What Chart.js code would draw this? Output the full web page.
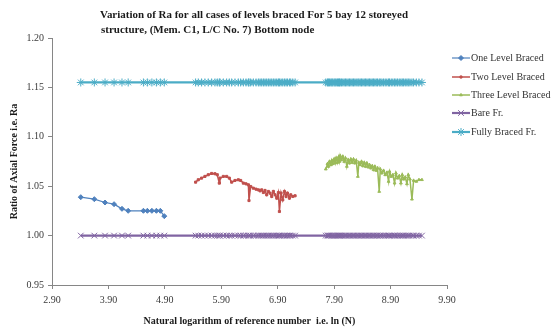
<!DOCTYPE html>
<html>
<head>
<meta charset="utf-8">
<script src="https://cdn.jsdelivr.net/npm/chart.js@4.4.0/dist/chart.umd.min.js"></script>
<style>
    html, body { margin: 0; padding: 0; background: #fff; }
</style>
</head>
<body>
<canvas id="chartRa" width="551" height="327"></canvas>
<script>
// ================== DATA ==================
const titleLines = [
    'Variation of Ra for all cases of levels braced For 5 bay 12 storeyed',
    'structure, (Mem. C1, L/C No. 7) Bottom node'
];
const xTitle = 'Natural logarithm of reference number  i.e. ln (N)';
const yTitle = 'Ratio of Axial Force i.e. Ra';
const seriesNames = ['One Level Braced', 'Two Level Braced', 'Three Level Braced', 'Bare Fr.', 'Fully Braced Fr.'];

const oneX = [3.41, 3.65, 3.84, 4.00, 4.14, 4.25, 4.52, 4.59, 4.67, 4.75, 4.82, 4.89];
const oneY = [1.0389, 1.0369, 1.0335, 1.0318, 1.0271, 1.0251, 1.0251, 1.0251, 1.0251, 1.0251, 1.0251, 1.0197];

const twoX = [5.445, 5.492, 5.551, 5.610, 5.669, 5.729, 5.788, 5.829, 5.865, 5.877, 5.936, 5.995,
    6.042, 6.084, 6.143, 6.202, 6.243, 6.291, 6.338, 6.380, 6.391, 6.421, 6.468, 6.516, 6.557,
    6.587, 6.616, 6.646, 6.675, 6.705, 6.735, 6.764, 6.794, 6.823, 6.853, 6.883, 6.912, 6.930,
    6.959, 6.989, 7.019, 7.048, 7.072, 7.107, 7.131, 7.167, 7.208];
const twoY = [1.0541, 1.0565, 1.0582, 1.0599, 1.0616, 1.0629, 1.0626, 1.0616, 1.0531, 1.0582, 1.0599, 1.0599,
    1.0582, 1.0541, 1.0558, 1.0565, 1.0558, 1.0531, 1.0524, 1.0514, 1.0355, 1.0497, 1.0480, 1.0470, 1.0463,
    1.0453, 1.0463, 1.0436, 1.0457, 1.0413, 1.0447, 1.0430, 1.0396, 1.0447, 1.0413, 1.0379, 1.0436, 1.0244,
    1.0430, 1.0362, 1.0447, 1.0396, 1.0430, 1.0379, 1.0413, 1.0396, 1.0403];

const threeX = [7.752, 7.782, 7.799, 7.817, 7.841, 7.859, 7.876, 7.900, 7.918, 7.936, 7.959, 7.977,
    7.995, 8.007, 8.030, 8.054, 8.078, 8.101, 8.125, 8.149, 8.172, 8.196, 8.220, 8.243, 8.267,
    8.291, 8.320, 8.338, 8.362, 8.385, 8.409, 8.433, 8.456, 8.480, 8.504, 8.527, 8.551, 8.575,
    8.598, 8.622, 8.646, 8.669, 8.699, 8.717, 8.746, 8.776, 8.805, 8.835, 8.865, 8.882, 8.912,
    8.941, 8.971, 8.995, 9.024, 9.054, 9.083, 9.107, 9.131, 9.160, 9.190, 9.214, 9.243, 9.279,
    9.308, 9.356, 9.403, 9.456];
const threeY = [1.0673, 1.0727, 1.0700, 1.0750, 1.0717, 1.0761, 1.0727, 1.0774, 1.0734, 1.0784, 1.0740, 1.0794,
    1.0750, 1.0808, 1.0767, 1.0801, 1.0750, 1.0784, 1.0700, 1.0767, 1.0734, 1.0774, 1.0740, 1.0774, 1.0734,
    1.0761, 1.0598, 1.0740, 1.0717, 1.0750, 1.0706, 1.0740, 1.0700, 1.0734, 1.0693, 1.0717, 1.0683, 1.0706,
    1.0666, 1.0700, 1.0659, 1.0683, 1.0446, 1.0673, 1.0632, 1.0659, 1.0615, 1.0639, 1.0548, 1.0649, 1.0598,
    1.0615, 1.0531, 1.0632, 1.0581, 1.0605, 1.0531, 1.0615, 1.0571, 1.0591, 1.0524, 1.0615, 1.0571, 1.0368,
    1.0558, 1.0548, 1.0565, 1.0565];

// Bare and fully braced frames: one constant ratio each, at every reference number
const bareRa = 1.000;
const fullyRa = 1.155;

const xTicks = [2.90, 3.90, 4.90, 5.90, 6.90, 7.90, 8.90, 9.90];
const yTicks = [0.95, 1.00, 1.05, 1.10, 1.15, 1.20];

// ================== BUILD ==================
const allX = [...oneX, ...twoX, ...threeX];
const toPoints = (xs, ys) => xs.map((x, i) => ({ x: x, y: ys[i] }));

const colores = ['#4F81BD', '#C0504D', '#9BBB59', '#8064A2', '#4BACC6'];
const estilos = [
    { pointStyle: 'rectRot', radius: 2.5, borderWidth: 1, lineWidth: 1.2 },
    { pointStyle: 'rect', radius: 1.5, borderWidth: 1, lineWidth: 1.5 },
    { pointStyle: 'triangle', radius: 1.6, borderWidth: 1, lineWidth: 1.5 },
    { pointStyle: 'crossRot', radius: 4, borderWidth: 1, lineWidth: 2.2 },
    { pointStyle: 'star', radius: 4, borderWidth: 1, lineWidth: 2.2 }
];

const puntos = [
    toPoints(oneX, oneY),
    toPoints(twoX, twoY),
    toPoints(threeX, threeY),
    allX.map(x => ({ x: x, y: bareRa })),
    allX.map(x => ({ x: x, y: fullyRa }))
];

const datasets = seriesNames.map((name, i) => ({
    label: name,
    data: puntos[i],
    showLine: true,
    borderColor: colores[i],
    backgroundColor: colores[i],
    borderWidth: estilos[i].lineWidth,
    pointStyle: estilos[i].pointStyle,
    pointRadius: estilos[i].radius,
    pointBorderWidth: estilos[i].borderWidth,
    pointBorderColor: colores[i],
    pointBackgroundColor: colores[i],
    tension: 0,
    order: 5 - i
}));

const serif = '"Liberation Serif", "DejaVu Serif", serif';

// title + legend drawn on the canvas (Excel-like legend with line and marker)
const extrasPlugin = {
    id: 'extras',
    afterDraw(chart) {
        const ctx = chart.ctx;
        ctx.save();
        ctx.fillStyle = '#1a1a1a';
        ctx.font = 'bold 11px ' + serif;
        ctx.textAlign = 'left';
        ctx.textBaseline = 'middle';
        ctx.fillText(titleLines[0], 100, 15, 308);
        ctx.fillText(titleLines[1], 101, 30, 214);

        const legendY = [58, 77, 95, 113, 132];
        seriesNames.forEach((name, i) => {
            const y = legendY[i];
            ctx.strokeStyle = colores[i];
            ctx.lineWidth = estilos[i].lineWidth;
            ctx.beginPath();
            ctx.moveTo(452, y);
            ctx.lineTo(470, y);
            ctx.stroke();
            ctx.fillStyle = colores[i];
            ctx.lineWidth = estilos[i].borderWidth;
            Chart.helpers.drawPoint(ctx, {
                pointStyle: estilos[i].pointStyle,
                radius: estilos[i].radius,
                rotation: 0,
                borderWidth: estilos[i].borderWidth
            }, 461, y);
            ctx.fillStyle = '#333333';
            ctx.font = '10px ' + serif;
            ctx.fillText(name, 471, y);
        });
        ctx.restore();
    }
};

new Chart(document.getElementById('chartRa'), {
    type: 'scatter',
    data: { datasets: datasets },
    options: {
        responsive: false,
        animation: false,
        layout: { padding: { left: 0, top: 38, right: 104, bottom: 0 } },
        plugins: {
            legend: { display: false },
            title: { display: false },
            tooltip: { enabled: false }
        },
        scales: {
            x: {
                type: 'linear',
                min: xTicks[0],
                max: xTicks[xTicks.length - 1],
                afterBuildTicks: (scale) => { scale.ticks = xTicks.map(v => ({ value: v })); },
                afterFit: (scale) => { scale.height = 42; },
                border: { color: '#868686', width: 1 },
                grid: { drawOnChartArea: false, drawTicks: true, tickLength: 4, color: '#868686' },
                ticks: {
                    font: { family: serif, size: 10 },
                    color: '#3a3a3a',
                    padding: 5,
                    maxRotation: 0,
                    autoSkip: false,
                    callback: (v) => Number(v).toFixed(2)
                },
                title: {
                    display: true,
                    text: xTitle,
                    color: '#1a1a1a',
                    font: { family: serif, size: 10, weight: 'bold' },
                    padding: { top: 3, bottom: 0 }
                }
            },
            y: {
                min: yTicks[0],
                max: yTicks[yTicks.length - 1],
                afterBuildTicks: (scale) => { scale.ticks = yTicks.map(v => ({ value: v })); },
                afterFit: (scale) => { scale.width = 52; },
                border: { color: '#868686', width: 1 },
                grid: { drawOnChartArea: false, drawTicks: true, tickLength: 4, color: '#868686' },
                ticks: {
                    font: { family: serif, size: 10 },
                    color: '#3a3a3a',
                    padding: 4,
                    autoSkip: false,
                    callback: (v) => Number(v).toFixed(2)
                },
                title: {
                    display: true,
                    text: yTitle,
                    color: '#1a1a1a',
                    font: { family: serif, size: 10, weight: 'bold' },
                    padding: { top: 8, bottom: 0 }
                }
            }
        }
    },
    plugins: [extrasPlugin]
});
</script>
</body>
</html>
